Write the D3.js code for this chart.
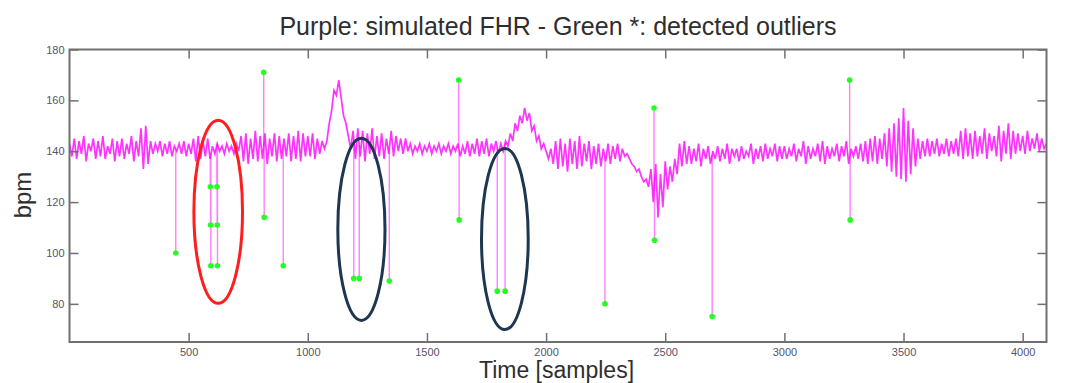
<!DOCTYPE html>
<html>
<head>
<meta charset="utf-8">
<script src="https://cdn.jsdelivr.net/npm/d3@7"></script>
<style>
  body { margin: 0; background: #fff; }
  svg { display: block; font-family: "Liberation Sans", Arial, sans-serif; }
</style>
</head>
<body>
<svg id="chart" width="1086" height="383"></svg>
<script>
// simulated FHR, one value every 10 samples
const sampleStep = 10;
const fhrValues = [
  143,138,145,137,144,139,146,136,143,140,145,137,144,138,146,137,142,139,145,136,
  144,138,145,137,143,139,146,136,144,138,149,133,150,135,144,139,143,140,144,138,
  143,139,144,138,142,140,143,139,144,138,143,139,145,136,146,137,144,138,145,137,
  142,139,143,140,142,139,143,140,142,139,143,140,146,136,147,135,145,137,148,136,
  146,137,147,135,145,138,147,136,146,137,145,138,147,136,146,137,148,136,147,138,
  146,138,147,137,145,139,144,141,144,151,156,164,162,168,161,154,151,146,141,148,
  137,149,138,148,136,147,139,149,137,146,138,147,137,145,139,148,138,146,140,145,
  139,145,140,143,139,142,140,143,139,142,140,143,139,142,140,143,139,142,140,143,
  139,142,140,143,138,142,139,144,138,143,139,145,138,144,139,145,138,143,140,144,
  139,143,140,144,142,147,144,151,148,154,151,157,152,155,148,150,144,146,141,143,
  140,137,141,135,144,133,145,134,143,132,145,135,144,133,146,134,143,136,144,133,
  142,135,143,134,141,136,143,135,142,137,143,136,141,138,139,137,135,134,132,133,
  130,128,129,126,133,120,135,114,131,118,136,125,134,128,137,131,143,134,144,135,
  142,135,141,136,143,134,141,137,142,135,140,137,142,136,141,137,143,135,141,138,
  141,136,142,137,140,138,143,135,141,137,142,136,143,137,141,138,143,136,142,137,
  142,137,141,138,143,136,141,138,144,135,142,137,141,138,143,136,144,135,142,137,
  141,138,143,136,142,138,144,135,141,138,142,137,143,136,144,135,145,136,146,135,
  145,137,147,134,149,132,151,130,153,129,157,128,152,131,149,134,145,137,144,138,
  145,138,144,139,145,138,143,139,145,138,144,139,145,138,148,137,149,138,147,137,
  148,138,146,139,149,137,147,140,146,138,150,136,148,139,151,137,148,139,147,140,
  146,139,148,140,145,141,147,140,145,141,143
];

// detected outliers (sample, bpm)
const outlierSamples = [446, 591, 592, 593, 619, 620, 621, 815, 817, 897, 1193, 1216, 1342, 1633, 1635, 1795, 1828, 2247, 2453, 2455, 2697, 3274, 3276];
const outlierValues  = [100, 126, 111,  95, 126, 111,  95, 171, 114,  95,   90,   90,   89,  168,  113,   85,   85,   80,  157,  105,   75,  168,  113];

// hand-drawn ellipses (centre sample, centre bpm, half width in samples, half height in bpm)
const ellipses = [
  { cx: 624,  cy: 116.2, rx: 102, ry: 36,   color: "#ff1e1e" },
  { cx: 1225, cy: 109.3, rx: 99,  ry: 35.8, color: "#1d3651" },
  { cx: 1827, cy: 105.5, rx: 98,  ry: 35.6, color: "#1d3651" }
];

const xTicks = [500, 1000, 1500, 2000, 2500, 3000, 3500, 4000];
const yTicks = [80, 100, 120, 140, 160, 180];

const margin = { top: 49.5, right: 39.5, bottom: 41, left: 69.5 };
const svgEl = d3.select("#chart");
const width = 1086 - margin.left - margin.right;
const height = 383 - margin.top - margin.bottom;

const x = d3.scaleLinear().domain([0, 4100]).range([0, width]);
const y = d3.scaleLinear().domain([65, 180]).range([height, 0]);

const svg = svgEl.append("g")
  .attr("transform", `translate(${margin.left},${margin.top})`);

svg.append("defs").append("clipPath").attr("id", "plotclip")
  .append("rect").attr("width", width).attr("height", height);

const signal = fhrValues.map((v, i) => ({ s: i * sampleStep, v: v }));

// value of the signal under an outlier sample
function signalAt(s) {
  const i = Math.floor(s / sampleStep);
  const t = (s - i * sampleStep) / sampleStep;
  return fhrValues[i] + (fhrValues[i + 1] - fhrValues[i]) * t;
}

const line = d3.line()
  .x((d) => x(d.s))
  .y((d) => y(d.v));

// spikes first (lighter), then the signal on top
svg.selectAll(".spike")
  .data(outlierSamples)
  .enter()
  .append("line")
  .attr("class", "spike")
  .attr("x1", (d) => x(d))
  .attr("x2", (d) => x(d))
  .attr("y1", (d) => y(signalAt(d)))
  .attr("y2", (d, i) => y(outlierValues[i]))
  .style("stroke", "#ff80ff")
  .style("stroke-width", 1.4);

svg.append("path")
  .datum(signal)
  .attr("clip-path", "url(#plotclip)")
  .attr("d", line)
  .style("fill", "none")
  .style("stroke", "#ff00ff")
  .style("stroke-opacity", 0.8)
  .style("stroke-width", 1.7);

svg.selectAll(".outlier")
  .data(outlierSamples)
  .enter()
  .append("circle")
  .attr("class", "outlier")
  .attr("cx", (d) => x(d))
  .attr("cy", (d, i) => y(outlierValues[i]))
  .attr("r", 2.8)
  .style("fill", "#22ff22");

svg.selectAll(".mark")
  .data(ellipses)
  .enter()
  .append("ellipse")
  .attr("class", "mark")
  .attr("cx", (d) => x(d.cx))
  .attr("cy", (d) => y(d.cy))
  .attr("rx", (d) => x(d.rx) - x(0))
  .attr("ry", (d) => y(0) - y(d.ry))
  .style("fill", "none")
  .style("stroke", (d) => d.color)
  .style("stroke-width", 3);

// matlab style box with inward ticks
const tickLen = 9;
const axisColor = "#707070";
const labelColor = "#55546a";

function styleAxis(g) {
  g.select(".domain").remove();
  g.selectAll(".tick line").attr("stroke", axisColor).attr("stroke-width", 1.5);
  g.selectAll(".tick text").attr("fill", labelColor).style("font-size", "11px");
}

svg.append("g")
  .attr("transform", `translate(0,${height})`)
  .call(d3.axisBottom(x).tickValues(xTicks).tickSize(-tickLen).tickPadding(6).tickFormat(d3.format("d")))
  .call(styleAxis);

svg.append("g")
  .call(d3.axisTop(x).tickValues(xTicks).tickSize(-tickLen).tickFormat(""))
  .call(styleAxis);

svg.append("g")
  .call(d3.axisLeft(y).tickValues(yTicks).tickSize(-tickLen).tickPadding(5).tickFormat(d3.format("d")))
  .call(styleAxis);

svg.append("g")
  .attr("transform", `translate(${width},0)`)
  .call(d3.axisRight(y).tickValues(yTicks).tickSize(-tickLen).tickFormat(""))
  .call(styleAxis);

svg.append("rect")
  .attr("width", width)
  .attr("height", height)
  .style("fill", "none")
  .style("stroke", axisColor)
  .style("stroke-width", 2);

svg.append("text")
  .attr("x", width / 2)
  .attr("y", -14.5)
  .attr("text-anchor", "middle")
  .style("font-size", "25px")
  .style("fill", "#2e2e2e")
  .text("Purple: simulated FHR - Green *: detected outliers");

svg.append("text")
  .attr("transform", "rotate(-90)")
  .attr("x", -(195 - margin.top))
  .attr("y", 31 - margin.left)
  .attr("text-anchor", "middle")
  .style("font-size", "24px")
  .style("fill", "#2e2e2e")
  .text("bpm");

svg.append("text")
  .attr("x", 556.5 - margin.left)
  .attr("y", 378 - margin.top)
  .attr("text-anchor", "middle")
  .style("font-size", "23px")
  .style("fill", "#2e2e2e")
  .text("Time [samples]");
</script>
</body>
</html>
